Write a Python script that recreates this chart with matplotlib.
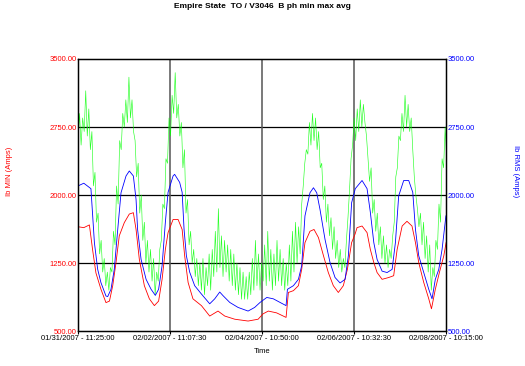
import numpy as np
import matplotlib
matplotlib.use("Agg")
import matplotlib.pyplot as plt

plt.rcParams['font.family'] = ['Liberation Sans', 'DejaVu Sans']

# hours since 01/31/2007 11:25:00
tick_labels = ["01/31/2007 - 11:25:00", "02/02/2007 - 11:07:30", "02/04/2007 - 10:50:00",
               "02/06/2007 - 10:32:30", "02/08/2007 - 10:15:00"]
t_end = 190.833

# Ib RMS (blue)
blue_t = [0.0, 3.0, 6.7, 8.5, 10.2, 11.9, 14.5, 15.4, 17.1, 18.8, 20.6, 22.3, 24.9, 26.6, 28.7,
          30.1, 30.9, 32.7, 35.3, 37.9, 40.1, 41.8, 43.6, 45.3, 46.7, 49.3, 50.1, 52.7, 54.0,
          55.0, 56.2, 57.9, 60.5, 64.0, 68.3, 70.9, 73.5, 75.2, 78.7, 83.0, 88.2, 91.6, 94.4,
          97.9, 101.3, 104.8, 107.9, 108.6, 111.7, 114.3, 116.0, 117.7, 120.3, 122.1, 123.8,
          125.5, 128.1, 130.7, 133.3, 135.9, 138.5, 140.2, 141.9, 143.8, 147.3, 149.9, 151.6,
          153.4, 155.1, 157.7, 160.3, 162.9, 164.6, 166.3, 168.9, 171.5, 173.6, 175.0, 176.7,
          179.3, 181.9, 183.6, 185.3, 187.1, 188.8, 190.8]
blue_v = [2100, 2130, 2070, 1474, 1180, 1033, 886, 880, 960, 1180, 1620, 2025, 2210, 2265, 2210,
          1950, 1620, 1290, 1070, 960, 893, 960, 1220, 1700, 2030, 2210, 2228, 2140, 2030,
          1620, 1330, 1150, 1000, 908, 800, 855, 930, 890, 815, 760, 720, 760, 815,
          870, 855, 815, 780, 960, 1000, 1070, 1220, 1770, 2025, 2080, 2025,
          1840, 1510, 1255, 1090, 1030, 1070, 1330, 1915, 2070, 2160, 2070, 1810,
          1475, 1290, 1160, 1145, 1180, 1475, 1990, 2160, 2160, 2030, 1620, 1330,
          1145, 960, 855, 1070, 1180, 1400, 1770]

# Ib MIN (red)
red_t = [0.0, 3.0, 5.9, 7.6, 9.3, 11.9, 14.5, 16.3, 18.0, 19.7, 21.4, 24.0, 26.6, 28.7, 30.1,
         31.8, 34.4, 37.0, 39.6, 41.8, 43.6, 45.3, 46.7, 49.3, 51.9, 54.0, 55.3, 57.1, 59.6,
         64.0, 68.3, 72.6, 76.1, 81.3, 88.2, 93.4, 96.0, 98.7, 103.0, 107.9, 109.1, 111.7,
         114.3, 116.0, 117.7, 120.3, 122.4, 124.7, 127.3, 129.8, 132.4, 135.0, 137.6, 139.7,
         141.9, 143.7, 144.7, 147.3, 149.9, 151.6, 153.4, 155.1, 157.7, 161.1, 163.7, 165.5,
         168.1, 170.6, 173.2, 175.0, 176.7, 179.3, 181.9, 183.3, 185.3, 187.4, 189.7, 190.9]
red_v = [1650, 1640, 1670, 1390, 1140, 960, 813, 830, 1000, 1255, 1550, 1695, 1790, 1805, 1620,
         1290, 1000, 855, 780, 830, 1070, 1400, 1585, 1730, 1730, 1620, 1330, 1035, 855,
         780, 665, 720, 665, 630, 610, 630, 690, 720, 700, 650, 925, 945,
         1000, 1180, 1475, 1600, 1620, 1530, 1330, 1145, 1000, 925, 1000, 1180,
         1475, 1570, 1640, 1658, 1585, 1400, 1255, 1145, 1070, 1090, 1110, 1400,
         1658, 1710, 1658, 1475, 1255, 1035, 855, 745, 960, 1145, 1330, 1475]

# Ib MAX (green), one reading every 0.8 h
green_step = 0.8
green_v = [2600, 2900, 2550, 2850, 2700, 3150, 2650, 2950, 2500, 2700,
           2100, 2250, 1700, 1800, 1350, 1500, 1150, 1300, 1000, 1150, 950, 1200,
           1150, 1600, 1450, 2100, 1900, 2600, 2500, 2900, 2750, 3050, 2800, 3300, 2850, 3050, 2700,
           2600, 2200, 2350, 1800, 2000, 1500, 1700, 1250, 1500, 1150, 1400, 1050, 1300, 900, 1150, 1050, 1400,
           1500, 1900, 1850, 2400, 2350, 2850, 2650, 3100, 2900, 3350, 2850, 3000, 2650, 2800, 2300, 2500,
           1800, 1950, 1450, 1600, 1250, 1400, 1100, 1300, 1000, 1250, 950, 1300, 900, 1200,
           1000, 1350, 950, 1400, 1100, 1600, 1150, 1850, 1200, 1550, 1100, 1500, 1150, 1450, 1050, 1400,
           1000, 1350, 950, 1250, 900, 1200, 850, 1150, 850, 1100, 850, 1150, 900, 1300, 950, 1500,
           1000, 1350, 950, 1250,
           1050, 1450, 1000, 1600, 1050, 1400, 950, 1350, 1000, 1500, 1050, 1400, 1000, 1300, 950, 1250,
           1000, 1450, 1050, 1600, 1150, 1700, 1250, 1650, 1350,
           1900, 2100, 2350, 2500, 2450, 2800, 2550, 2900, 2600, 2850, 2500, 2700, 2300,
           2350, 1950, 2100, 1700, 1900, 1550, 1750, 1400, 1650, 1300, 1500, 1200, 1400, 1150, 1300, 1200,
           1500, 1750, 2050, 2400, 2550, 2850, 2600, 2950, 2700, 3050, 2750, 3000, 2800, 2650,
           2400, 2150, 2300, 1800, 1950, 1600, 1800, 1450, 1650, 1300, 1550, 1250, 1450, 1200, 1400, 1300, 1550,
           1700, 2200, 2300, 2650, 2600, 2900, 2700, 3100, 2750, 3000, 2700, 2850,
           2500, 2200, 2000, 1850, 1650, 1800, 1450, 1700, 1300, 1550, 1150, 1450, 950, 1200, 1100, 1500,
           1400, 1900, 1700, 2400, 2300, 2750, 2400]
green_t = np.arange(len(green_v)) * green_step

fig = plt.figure(figsize=(5.25, 3.66), dpi=100)
ax = fig.add_axes([0.1486, 0.0956, 0.7009, 0.7432])

ax.plot(green_t, green_v, color='#00ff00', lw=0.45, alpha=0.85)
ax.plot(red_t, red_v, color='#ff0000', lw=0.6)
ax.plot(blue_t, blue_v, color='#0000ff', lw=0.6)

ax.set_xlim(0, t_end)
ax.set_ylim(500, 3500)
yt = [500, 1250, 2000, 2750, 3500]
ax.set_yticks(yt)
ax.set_yticklabels(["%.2f" % v for v in yt], color='red', fontsize=5.5)
xt = np.linspace(0, t_end, 5)
ax.set_xticks(xt)
ax.set_xticklabels(tick_labels, fontsize=5.5)
ax.tick_params(axis='y', length=0, pad=1)
ax.tick_params(axis='x', length=2, pad=1)

for v in yt[1:4]:
    ax.axhline(v, color='black', lw=0.9, zorder=0.5)
for v in xt[1:4]:
    ax.axvline(v, color='#555555', lw=1.1, zorder=0.5)
for s in ax.spines.values():
    s.set_linewidth(1.0)

ax2 = ax.twinx()
ax2.set_ylim(500, 3500)
ax2.set_yticks(yt)
ax2.set_yticklabels(["%.2f" % v for v in yt], color='blue', fontsize=5.5)
ax2.tick_params(axis='y', length=0, pad=1)

ax.set_xlabel("Time", fontsize=5.5, labelpad=4)
fig.text(0.019, 0.533, "Ib MIN (Amps)", color='red', fontsize=5.5, rotation=90,
         ha='center', va='center')
fig.text(0.981, 0.533, "Ib RMS (Amps)", color='blue', fontsize=5.5, rotation=270,
         ha='center', va='center')
fig.text(0.5, 0.981, "Empire State  TO / V3046  B ph min max avg", fontsize=6,
         fontweight='bold', ha='center', va='center')

fig.savefig("out.png", dpi=100)
